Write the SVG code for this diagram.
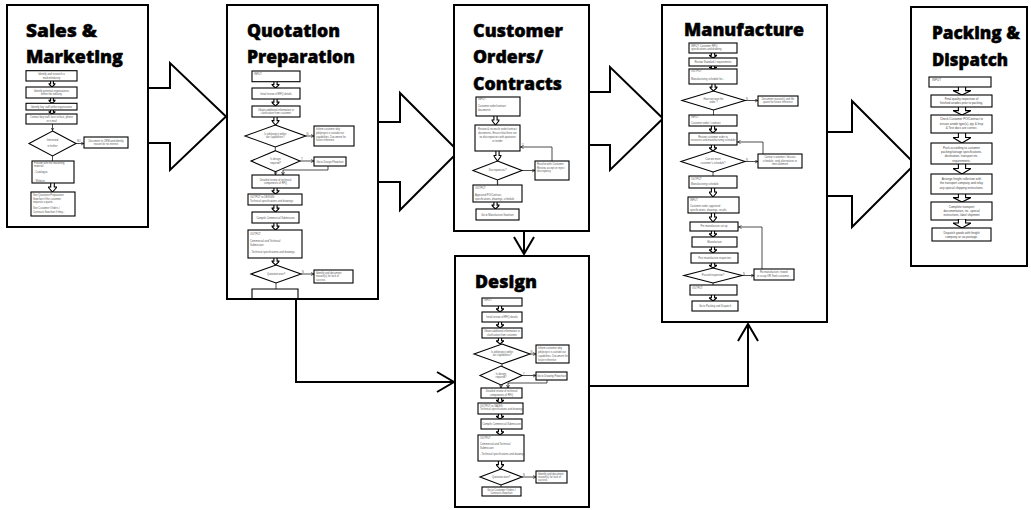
<svg xmlns="http://www.w3.org/2000/svg" xmlns:xlink="http://www.w3.org/1999/xlink" width="1031" height="510" viewBox="0 0 1031 510">
  <style>
    .pn { fill: #fff; stroke: #000; stroke-width: 2; }
    .ba { fill: #fff; stroke: #000; stroke-width: 2; stroke-linejoin: miter; }
    .cn { fill: none; stroke: #000; stroke-width: 2; }
    .ttl { font-family: "Open Sans", "Liberation Sans", sans-serif; font-weight: 800; font-size: 17.5px; fill: #000; stroke: #000; stroke-width: 0.45px; }
    .b { fill: #fff; stroke: #000; stroke-width: 1.1; }
    .ln { fill: none; stroke: #000; stroke-width: 0.7; }
    .t { font-family: "Liberation Sans", Arial, sans-serif; font-size: 2.6px; fill: #555; text-anchor: middle; }
    .tl { font-family: "Liberation Sans", Arial, sans-serif; font-size: 2.6px; fill: #555; text-anchor: start; }
    .tp { font-family: "Liberation Sans", Arial, sans-serif; font-size: 3px; fill: #444; text-anchor: middle; }
    .lb { font-family: "Liberation Sans", Arial, sans-serif; font-size: 2.6px; fill: #555; }
  </style>
  <defs>
    <!-- small hollow block arrow between steps -->
    <symbol id="dn" viewBox="0 0 10 10" preserveAspectRatio="none">
      <path d="M3,0 H7 V4.5 H10 L5,10 L0,4.5 H3 Z" fill="#fff" stroke="#000" stroke-width="1.1" vector-effect="non-scaling-stroke"/>
    </symbol>
    <!-- open V head for the main connectors -->
    <marker id="vOpen" markerUnits="userSpaceOnUse" markerWidth="24" markerHeight="24" viewBox="-20 -12 24 24" refX="0" refY="0" orient="auto">
      <path d="M-17,-10 L0,0 L-17,10" fill="none" stroke="#000" stroke-width="2"/>
    </marker>
    <!-- tiny head for the inner side arrows -->
    <marker id="sm" markerUnits="userSpaceOnUse" markerWidth="4" markerHeight="4" viewBox="0 0 4 4" refX="3" refY="2" orient="auto">
      <path d="M0,0.5 L3,2 L0,3.5" fill="none" stroke="#000" stroke-width="0.6"/>
    </marker>
  </defs>

  <rect width="1031" height="510" fill="#fff"/>

  <!-- connectors: block arrows between stages and routing lines -->
  <g id="connectors">
    <polygon class="ba" points="140,88 170,88 170,63 226,116.5 170,170 170,143 140,143"/>
    <polygon class="ba" points="370,122 400,122 400,93 458.5,151.5 400,210 400,182 370,182"/>
    <polygon class="ba" points="580,92 610,92 610,67 663,118.5 610,170 610,145 580,145"/>
    <polygon class="ba" points="820,132 852,132 852,101 915,164 852,227 852,196 820,196"/>
    <path class="cn" d="M524,231 V254" marker-end="url(#vOpen)"/>
    <path class="cn" d="M296,299 V382 H454" marker-end="url(#vOpen)"/>
    <path class="cn" d="M589,386 H748 V324" marker-end="url(#vOpen)"/>
  </g>

  <!-- Sales & Marketing -->
  <g id="sales-marketing">
    <rect class="pn" x="7" y="5" width="141" height="222"/>
    <text class="ttl" x="26" y="37" textLength="71" lengthAdjust="spacingAndGlyphs">Sales &amp;</text>
    <text class="ttl" x="26" y="63" textLength="97" lengthAdjust="spacingAndGlyphs">Marketing</text>

    <rect class="b" x="26" y="70.7" width="51" height="10.3"/>
    <text class="t" x="51.5" y="75"><tspan x="51.5">Identify and research a</tspan><tspan x="51.5" dy="3.5">market/industry</tspan></text>
    <use href="#dn" x="48.5" y="81" width="7" height="6"/>
    <rect class="b" x="26" y="87" width="51" height="11"/>
    <text class="t" x="51.5" y="91.5"><tspan x="51.5">Identify potential organisations</tspan><tspan x="51.5" dy="3.5">within the industry</tspan></text>
    <use href="#dn" x="48.5" y="98" width="7" height="5.3"/>
    <rect class="b" x="26" y="103.3" width="51" height="6.7"/>
    <text class="t" x="51.5" y="107.5">Identify key staff within organisation</text>
    <use href="#dn" x="48.5" y="110" width="7" height="4"/>
    <rect class="b" x="26" y="114" width="51" height="10"/>
    <text class="t" x="51.5" y="118"><tspan x="51.5">Contact key staff, face to face, phone</tspan><tspan x="51.5" dy="3.5">or e-mail</tspan></text>
    <path class="ln" d="M52.5,124 V130.5" marker-end="url(#sm)"/>
    <polygon class="b" points="52.5,131 76,143.5 52.5,156 29,143.5"/>
    <text class="t" x="52.5" y="140.5"><tspan x="52.5">Interested</tspan><tspan x="52.5" dy="6">in further</tspan></text>
    <text class="lb" x="77" y="142">NO</text>
    <path class="ln" d="M76,143.5 H84" marker-end="url(#sm)"/>
    <rect class="b" x="84" y="137" width="44" height="11"/>
    <text class="t" x="106" y="141.5"><tspan x="106">Document in CRM and identify</tspan><tspan x="106" dy="3.5">reason for no interest</tspan></text>
    <path class="ln" d="M52.5,156 V161"/>
    <rect class="b" x="32" y="161" width="42" height="22"/>
    <text class="tl" x="34" y="164"><tspan x="34">Provide with the marketing</tspan><tspan x="34" dy="3.3">material</tspan><tspan x="34" dy="6">- Catalogue</tspan><tspan x="34" dy="8.5">- Website</tspan></text>
    <use href="#dn" x="48" y="183" width="9" height="9"/>
    <rect class="b" x="31" y="192" width="44" height="24"/>
    <text class="tl" x="33" y="196"><tspan x="33">See Quotation Preparation</tspan><tspan x="33" dy="3.6">flowchart if the customer</tspan><tspan x="33" dy="3.6">requests a quote.</tspan><tspan x="33" dy="6">See Customer Orders /</tspan><tspan x="33" dy="3.6">Contracts flowchart if they...</tspan></text>
  </g>

  <!-- Quotation Preparation -->
  <g id="quotation-preparation">
    <rect class="pn" x="227" y="5" width="151" height="294"/>
    <text class="ttl" x="247" y="37" textLength="93" lengthAdjust="spacingAndGlyphs">Quotation</text>
    <text class="ttl" x="247" y="63" textLength="108" lengthAdjust="spacingAndGlyphs">Preparation</text>

    <rect class="b" x="252" y="71" width="48" height="10.7"/>
    <text class="tl" x="254" y="74.5">INPUT</text>
    <use href="#dn" x="271.5" y="81.7" width="8" height="6.3"/>
    <rect class="b" x="252" y="88" width="48" height="11"/>
    <text class="t" x="276" y="94.5">Initial review of RFQ details</text>
    <use href="#dn" x="271.5" y="99" width="8" height="7"/>
    <rect class="b" x="252" y="106" width="48" height="11"/>
    <text class="t" x="276" y="110.5"><tspan x="276">Obtain additional information or</tspan><tspan x="276" dy="3.5">clarification from customer</tspan></text>
    <use href="#dn" x="271.5" y="117" width="8" height="8"/>
    <polygon class="b" points="275.3,125 305.7,136 275.3,147 245,136"/>
    <text class="t" x="275.3" y="134.7"><tspan x="275.3">Is job/project within</tspan><tspan x="275.3" dy="3.5">our capabilities?</tspan></text>
    <text class="lb" x="306.5" y="135">N</text>
    <path class="ln" d="M305.7,136 H314" marker-end="url(#sm)"/>
    <rect class="b" x="314" y="126" width="40" height="20"/>
    <text class="tl" x="316" y="130"><tspan x="316">Inform customer why</tspan><tspan x="316" dy="3.8">job/project is outside our</tspan><tspan x="316" dy="3.8">capabilities. Document for</tspan><tspan x="316" dy="3.8">future reference</tspan></text>
    <path class="ln" d="M275.3,147 V150.7"/>
    <polygon class="b" points="275.5,150.7 300,161 275.5,171.7 251,161"/>
    <text class="t" x="275.5" y="160"><tspan x="275.5">Is design</tspan><tspan x="275.5" dy="3.5">required?</tspan></text>
    <text class="lb" x="301" y="160">Y</text>
    <path class="ln" d="M300,161 H314" marker-end="url(#sm)"/>
    <rect class="b" x="314" y="157" width="32" height="9"/>
    <text class="t" x="330" y="162.5">Go to Design Flowchart</text>
    <path class="ln" d="M328,166 V170 H283 V175" marker-end="url(#sm)"/>
    <path class="ln" d="M275.5,171.7 V175" marker-end="url(#sm)"/>
    <rect class="b" x="252" y="175" width="47" height="13"/>
    <text class="t" x="275.5" y="180.5"><tspan x="275.5">Detailed review of technical</tspan><tspan x="275.5" dy="3.5">components of RFQ</tspan></text>
    <use href="#dn" x="271.5" y="188" width="8" height="6"/>
    <rect class="b" x="248" y="194" width="54" height="11"/>
    <text class="tl" x="250" y="197.5"><tspan x="250">OUTPUT to DESIGN:</tspan><tspan x="250" dy="4">Technical specifications and drawings</tspan></text>
    <use href="#dn" x="271.5" y="205" width="8" height="7"/>
    <rect class="b" x="252" y="212" width="47" height="11"/>
    <text class="t" x="275.5" y="218.5">Compile Commercial Submission</text>
    <use href="#dn" x="271.5" y="223" width="8" height="7"/>
    <rect class="b" x="248" y="230" width="54" height="28"/>
    <text class="tl" x="250" y="235"><tspan x="250">OUTPUT</tspan><tspan x="250" dy="6.7">Commercial and Technical</tspan><tspan x="250" dy="3.8">Submission:</tspan><tspan x="250" dy="7.6">- Technical specifications and drawings</tspan></text>
    <use href="#dn" x="271.5" y="258" width="8" height="7"/>
    <polygon class="b" points="276,265 301,274 276,283 251,274"/>
    <text class="t" x="276" y="275">Quotation won?</text>
    <text class="lb" x="302" y="273">N</text>
    <path class="ln" d="M301,274 H314" marker-end="url(#sm)"/>
    <rect class="b" x="314" y="270" width="39" height="13"/>
    <text class="tl" x="316" y="273.5"><tspan x="316">Identify and document</tspan><tspan x="316" dy="3.5">reason(s) for lack of</tspan><tspan x="316" dy="3.5">success</tspan></text>
    <path class="ln" d="M276,283 V289"/>
    <path class="ln" style="stroke-width:1.1" d="M252,298 V289 H298 V298"/>
  </g>

  <!-- Customer Orders / Contracts -->
  <g id="customer-orders">
    <rect class="pn" x="454" y="5" width="135" height="226"/>
    <text class="ttl" x="473" y="37" textLength="90" lengthAdjust="spacingAndGlyphs">Customer</text>
    <text class="ttl" x="473" y="63" textLength="70" lengthAdjust="spacingAndGlyphs">Orders/</text>
    <text class="ttl" x="473" y="90" textLength="89" lengthAdjust="spacingAndGlyphs">Contracts</text>

    <rect class="b" x="476" y="97" width="44" height="19"/>
    <text class="tl" x="478" y="100.3"><tspan x="478">INPUT</tspan><tspan x="478" dy="7">Customer order/contract</tspan><tspan x="478" dy="4">documents</tspan></text>
    <use href="#dn" x="491.5" y="116" width="8" height="9"/>
    <rect class="b" x="475" y="125" width="45" height="26"/>
    <text class="t" x="497.5" y="129.8"><tspan x="497.5">Review &amp; reconcile order/contract</tspan><tspan x="497.5" dy="4">documents. Ensure that there are</tspan><tspan x="497.5" dy="4">no discrepancies with quotation</tspan><tspan x="497.5" dy="4">or tender</tspan></text>
    <use href="#dn" x="493.5" y="151" width="8" height="10"/>
    <polygon class="b" points="497.5,161 522,170.5 497.5,180 473,170.5"/>
    <text class="t" x="497.5" y="171.3">Discrepancies?</text>
    <path class="ln" d="M522,170.5 H535" marker-end="url(#sm)"/>
    <rect class="b" x="535" y="161" width="34" height="19"/>
    <text class="tl" x="537" y="164.5"><tspan x="537">Resolve with Customer.</tspan><tspan x="537" dy="4">Review, accept or reject</tspan><tspan x="537" dy="3.6">discrepancy</tspan></text>
    <path class="ln" d="M552,161 V147 H520.5" marker-end="url(#sm)"/>
    <text class="lb" x="522" y="146">Y</text>
    <text class="lb" x="496.5" y="184">N</text>
    <path class="ln" d="M497.5,180 V185"/>
    <rect class="b" x="473" y="185" width="49" height="17"/>
    <text class="tl" x="475" y="188.7"><tspan x="475">OUTPUT</tspan><tspan x="475" dy="7.5">Approved PO/Contract,</tspan><tspan x="475" dy="3.8">specifications, drawings, schedule</tspan></text>
    <use href="#dn" x="491.5" y="202" width="8" height="7"/>
    <rect class="b" x="476" y="209" width="43" height="11"/>
    <text class="t" x="497.5" y="215.5">Go to Manufacture flowchart</text>
  </g>

  <!-- Design -->
  <g id="design">
    <rect class="pn" x="455" y="256" width="134" height="251"/>
    <text class="ttl" x="475" y="288" textLength="62" lengthAdjust="spacingAndGlyphs">Design</text>

    <rect class="b" x="482" y="298" width="40" height="8"/>
    <text class="tl" x="484" y="301.2">INPUT</text>
    <use href="#dn" x="496" y="306" width="8" height="6"/>
    <rect class="b" x="482" y="312" width="40" height="10"/>
    <text class="t" x="502" y="317.8">Initial review of RFQ details</text>
    <use href="#dn" x="496" y="322" width="8" height="6"/>
    <rect class="b" x="482" y="328" width="40" height="10"/>
    <text class="t" x="502" y="332.2"><tspan x="502">Obtain additional information or</tspan><tspan x="502" dy="3.4">clarification from customer</tspan></text>
    <use href="#dn" x="496" y="338" width="8" height="6"/>
    <polygon class="b" points="502,344 530,354 502,364 474,354"/>
    <text class="t" x="502" y="353"><tspan x="502">Is job/project within</tspan><tspan x="502" dy="3.4">our capabilities?</tspan></text>
    <text class="lb" x="530.5" y="353">N</text>
    <path class="ln" d="M530,354 H536" marker-end="url(#sm)"/>
    <rect class="b" x="536" y="345" width="33" height="18"/>
    <text class="tl" x="538" y="348.5"><tspan x="538">Inform customer why</tspan><tspan x="538" dy="4">job/project is outside our</tspan><tspan x="538" dy="4">capabilities. Document for</tspan><tspan x="538" dy="4">future reference</tspan></text>
    <path class="ln" d="M502,364 V366"/>
    <polygon class="b" points="501,366 522,375.5 501,385 480,375.5"/>
    <text class="t" x="501" y="374.5"><tspan x="501">Is design</tspan><tspan x="501" dy="3.4">required?</tspan></text>
    <text class="lb" x="523" y="374.5">Y</text>
    <path class="ln" d="M522,375.5 H536" marker-end="url(#sm)"/>
    <rect class="b" x="536" y="372" width="31" height="8"/>
    <text class="t" x="551.5" y="377">Go to Drawing Flowchart</text>
    <path class="ln" d="M547,380 V383 H508 V388" marker-end="url(#sm)"/>
    <path class="ln" d="M501,385 V388" marker-end="url(#sm)"/>
    <rect class="b" x="481" y="388" width="41" height="10"/>
    <text class="t" x="501.5" y="392.3"><tspan x="501.5">Detailed review of technical</tspan><tspan x="501.5" dy="3.4">components of RFQ</tspan></text>
    <use href="#dn" x="496" y="398" width="8" height="5"/>
    <rect class="b" x="478" y="403" width="45" height="11"/>
    <text class="tl" x="480" y="406.7"><tspan x="480">OUTPUT to SALES:</tspan><tspan x="480" dy="3.6">Technical specifications and drawings</tspan></text>
    <use href="#dn" x="496" y="414" width="8" height="5"/>
    <rect class="b" x="481" y="419" width="41" height="10"/>
    <text class="t" x="501.5" y="424.8">Compile Commercial Submission</text>
    <use href="#dn" x="496" y="429" width="8" height="6"/>
    <rect class="b" x="478" y="435" width="46" height="26"/>
    <text class="tl" x="480" y="439"><tspan x="480">OUTPUT</tspan><tspan x="480" dy="6">Commercial and Technical</tspan><tspan x="480" dy="3.5">Submission:</tspan><tspan x="480" dy="6.5">- Technical specifications and drawings</tspan></text>
    <use href="#dn" x="496" y="461" width="8" height="8"/>
    <polygon class="b" points="501,469 522,477 501,485 480,477"/>
    <text class="t" x="501" y="478">Quotation won?</text>
    <text class="lb" x="523" y="476">N</text>
    <path class="ln" d="M522,477 H536" marker-end="url(#sm)"/>
    <rect class="b" x="536" y="471" width="31" height="12"/>
    <text class="tl" x="538" y="474.5"><tspan x="538">Identify and document</tspan><tspan x="538" dy="3.4">reason(s) for lack of</tspan><tspan x="538" dy="3.4">success</tspan></text>
    <path class="ln" d="M501,485 V487"/>
    <rect class="b" x="482" y="487" width="39" height="9"/>
    <text class="t" x="501.5" y="490.7"><tspan x="501.5">Go to Customer Orders /</tspan><tspan x="501.5" dy="3.3">Contracts flowchart</tspan></text>
  </g>

  <!-- Manufacture -->
  <g id="manufacture">
    <rect class="pn" x="662" y="5" width="165" height="317"/>
    <text class="ttl" x="684" y="36" textLength="120" lengthAdjust="spacingAndGlyphs">Manufacture</text>

    <rect class="b" x="689" y="43" width="48" height="10"/>
    <text class="tl" x="691" y="46.7"><tspan x="691">INPUT: Customer RFQ,</tspan><tspan x="691" dy="3.4">specifications and drawing</tspan></text>
    <use href="#dn" x="709" y="53" width="8" height="5"/>
    <rect class="b" x="689" y="58" width="48" height="8"/>
    <text class="t" x="713" y="62.8">Review Standard / requirements</text>
    <use href="#dn" x="709" y="66" width="8" height="3"/>
    <rect class="b" x="689" y="69" width="48" height="15"/>
    <text class="tl" x="691" y="72.3"><tspan x="691">OUTPUT</tspan><tspan x="691" dy="8">Manufacturing schedule for...</tspan></text>
    <use href="#dn" x="709.5" y="84" width="8" height="7"/>
    <polygon class="b" points="713.5,91 745,100.5 713.5,110 682,100.5"/>
    <text class="t" x="713.5" y="99.5"><tspan x="713.5">Have we won the</tspan><tspan x="713.5" dy="3.6">order ?</tspan></text>
    <text class="lb" x="746" y="99.5">N</text>
    <path class="ln" d="M745,100.5 H758" marker-end="url(#sm)"/>
    <rect class="b" x="758" y="96" width="40" height="10"/>
    <text class="t" x="778" y="100"><tspan x="778">Document reason(s) and file</tspan><tspan x="778" dy="3.4">quote for future reference</tspan></text>
    <path class="ln" d="M713.5,110 V115"/>
    <rect class="b" x="689" y="115" width="48" height="11"/>
    <text class="tl" x="691" y="118.3"><tspan x="691">INPUT</tspan><tspan x="691" dy="5.5">Customer order / contract</tspan></text>
    <use href="#dn" x="709" y="126" width="8" height="7"/>
    <rect class="b" x="689" y="133" width="48" height="12"/>
    <text class="t" x="713" y="137.7"><tspan x="713">Review customer order to</tspan><tspan x="713" dy="3.5">resources and manufacturing schedule</tspan></text>
    <use href="#dn" x="709" y="145" width="8" height="6"/>
    <polygon class="b" points="713,151 745,161.5 713,172 681,161.5"/>
    <text class="t" x="713" y="160.3"><tspan x="713">Can we meet</tspan><tspan x="713" dy="3.8">customer's schedule?</tspan></text>
    <text class="lb" x="746" y="160.5">N</text>
    <path class="ln" d="M745,161.5 H758" marker-end="url(#sm)"/>
    <rect class="b" x="758" y="154" width="44" height="14"/>
    <text class="t" x="780" y="158"><tspan x="780">Contact customer / discuss</tspan><tspan x="780" dy="3.5">schedule, seek alternatives or</tspan><tspan x="780" dy="3.5">time allotment</tspan></text>
    <path class="ln" d="M763,154 V142 H737.5" marker-end="url(#sm)"/>
    <path class="ln" d="M713,172 V176"/>
    <rect class="b" x="689" y="176" width="48" height="12"/>
    <text class="tl" x="691" y="179.5"><tspan x="691">OUTPUT</tspan><tspan x="691" dy="5.5">Manufacturing schedule</tspan></text>
    <use href="#dn" x="709" y="188" width="8" height="9"/>
    <rect class="b" x="688" y="197" width="51" height="16"/>
    <text class="tl" x="690" y="200.5"><tspan x="690">INPUT</tspan><tspan x="690" dy="6.5">Customer order, approved</tspan><tspan x="690" dy="4">specifications, drawings, results</tspan></text>
    <use href="#dn" x="709" y="213" width="8" height="9"/>
    <rect class="b" x="690" y="222" width="48" height="9"/>
    <text class="t" x="714" y="227.4">Pre manufacture set up</text>
    <use href="#dn" x="709" y="231" width="8" height="6"/>
    <rect class="b" x="692" y="237" width="45" height="10"/>
    <text class="t" x="714.5" y="242.9">Manufacture</text>
    <use href="#dn" x="709" y="247" width="8" height="6"/>
    <rect class="b" x="691" y="253" width="47" height="10"/>
    <text class="t" x="714.5" y="258.9">Post manufacture inspection</text>
    <use href="#dn" x="709" y="263" width="8" height="5"/>
    <polygon class="b" points="713,268 742,275.5 713,283 684,275.5"/>
    <text class="t" x="713" y="276.4">Passed inspection?</text>
    <text class="lb" x="743" y="274.5">N</text>
    <path class="ln" d="M742,275.5 H754" marker-end="url(#sm)"/>
    <rect class="b" x="754" y="269" width="40" height="11"/>
    <text class="t" x="774" y="273.3"><tspan x="774">Re-manufacture, rework</tspan><tspan x="774" dy="3.5">or scrap OR Seek customer...</tspan></text>
    <path class="ln" d="M762,269 V227 H738.5" marker-end="url(#sm)"/>
    <path class="ln" d="M713,283 V285"/>
    <rect class="b" x="690" y="285" width="47" height="10"/>
    <text class="tl" x="692" y="289">OUTPUT</text>
    <use href="#dn" x="709" y="295" width="8" height="6"/>
    <rect class="b" x="692" y="301" width="46" height="10"/>
    <text class="t" x="715" y="306.9">Go to Packing and Dispatch</text>
  </g>

  <!-- Packing & Dispatch -->
  <g id="packing-dispatch">
    <rect class="pn" x="911" y="7" width="116" height="259"/>
    <text class="ttl" x="932" y="39" textLength="88" lengthAdjust="spacingAndGlyphs">Packing &amp;</text>
    <text class="ttl" x="932" y="66" textLength="76" lengthAdjust="spacingAndGlyphs">Dispatch</text>

    <rect class="b" x="929" y="77" width="62" height="10"/>
    <text class="tl" x="932" y="81" style="font-size:3px">INPUT</text>
    <use href="#dn" x="953" y="87" width="18" height="8"/>
    <rect class="b" x="931" y="95" width="61" height="12"/>
    <text class="tp" x="961.5" y="100.3"><tspan x="961.5">Final quality inspection of</tspan><tspan x="961.5" dy="4">finished anodes prior to packing.</tspan></text>
    <use href="#dn" x="953" y="107" width="18" height="8"/>
    <rect class="b" x="931" y="115" width="61" height="18"/>
    <text class="tp" x="961.5" y="120.3"><tspan x="961.5">Check Customer PO/Contract to</tspan><tspan x="961.5" dy="4.3">ensure anode type(s), qty &amp; Insp</tspan><tspan x="961.5" dy="4.3">&amp; Test docs are correct.</tspan></text>
    <use href="#dn" x="953" y="133" width="18" height="10"/>
    <rect class="b" x="931" y="143" width="61" height="21"/>
    <text class="tp" x="961.5" y="149"><tspan x="961.5">Pack according to customer</tspan><tspan x="961.5" dy="4.2">packing/storage specifications,</tspan><tspan x="961.5" dy="4.2">destination, transport etc.</tspan><tspan x="961.5" dy="4.2">requirements.</tspan></text>
    <use href="#dn" x="953" y="164" width="18" height="10"/>
    <rect class="b" x="931" y="174" width="61" height="20"/>
    <text class="tp" x="961.5" y="180"><tspan x="961.5">Arrange freight collection with</tspan><tspan x="961.5" dy="4.4">the transport company and relay</tspan><tspan x="961.5" dy="4.4">any special shipping instructions.</tspan></text>
    <use href="#dn" x="953" y="194" width="18" height="8"/>
    <rect class="b" x="931" y="202" width="61" height="18"/>
    <text class="tp" x="961.5" y="207.5"><tspan x="961.5">Complete transport</tspan><tspan x="961.5" dy="4.3">documentation, inc. special</tspan><tspan x="961.5" dy="4.3">instructions, label shipment</tspan></text>
    <use href="#dn" x="953" y="219" width="18" height="9"/>
    <rect class="b" x="932" y="228" width="59" height="13"/>
    <text class="tp" x="961.5" y="233.5"><tspan x="961.5">Dispatch goods with freight</tspan><tspan x="961.5" dy="4.2">company or via postage.</tspan></text>
  </g>
</svg>
